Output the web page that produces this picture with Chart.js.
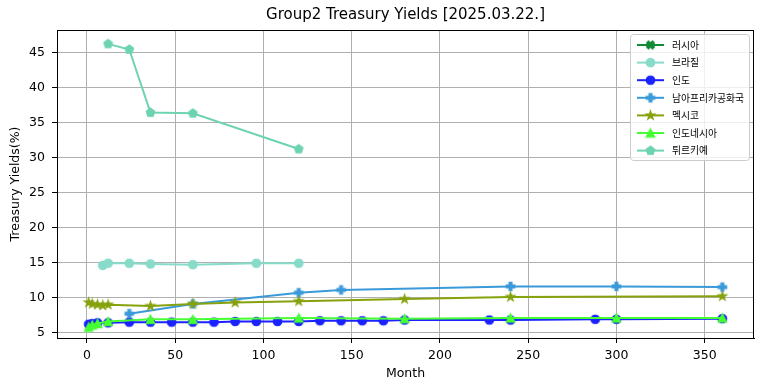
<!DOCTYPE html>
<html>
<head>
<meta charset="utf-8">
<script src="https://cdn.jsdelivr.net/npm/chart.js@4/dist/chart.umd.min.js"></script>
<style>
  html, body { margin: 0; padding: 0; background: #fff; }
  #yieldChart { display: block; }
</style>
</head>
<body>
<canvas id="yieldChart" width="764" height="391"></canvas>
<script>
// values (month -> yield %)
const russiaMonths = [];
const russiaYields = [];

const brazilMonths = [9, 12, 24, 36, 60, 96, 120];
const brazilYields = [14.6, 14.9, 14.9, 14.8, 14.7, 14.9, 14.9];

const indiaMonths = [1, 3, 6, 12, 24, 36, 48, 60, 72, 84, 96, 108, 120, 132, 144, 156, 168, 180, 228, 240, 288, 300, 360];
const indiaYields = [6.2, 6.3, 6.4, 6.4, 6.5, 6.5, 6.5, 6.5, 6.5, 6.6, 6.6, 6.6, 6.6, 6.7, 6.7, 6.7, 6.7, 6.8, 6.8, 6.8, 6.9, 6.9, 7.0];

const southAfricaMonths = [24, 60, 120, 144, 240, 300, 360];
const southAfricaYields = [7.7, 9.1, 10.7, 11.1, 11.6, 11.6, 11.5];

const mexicoMonths = [1, 3, 6, 9, 12, 36, 60, 84, 120, 180, 240, 360];
const mexicoYields = [9.3, 9.1, 9.0, 8.9, 9.0, 8.8, 9.1, 9.3, 9.5, 9.8, 10.1, 10.2];

const indonesiaMonths = [1, 3, 6, 12, 36, 60, 120, 180, 240, 300, 360];
const indonesiaYields = [5.8, 6.1, 6.3, 6.6, 6.9, 6.9, 7.1, 7.0, 7.1, 7.1, 7.1];

const turkeyMonths = [12, 24, 36, 60, 120];
const turkeyYields = [46.2, 45.4, 36.4, 36.3, 31.2];

const xTickValues = [0, 50, 100, 150, 200, 250, 300, 350];
const yTickValues = [5, 10, 15, 20, 25, 30, 35, 40, 45];

const baseFont = { family: "'DejaVu Sans', sans-serif", size: 12.5 };

function markerCanvas(shape, color, size) {
  const dim = Math.ceil(size + 4);
  const c = document.createElement("canvas");
  c.width = dim;
  c.height = dim;
  const g = c.getContext("2d");
  const r = size / 2;
  g.translate(dim / 2, dim / 2);
  g.fillStyle = color;
  g.strokeStyle = color;
  g.lineWidth = 1.2;
  g.lineJoin = "miter";
  g.beginPath();
  if (shape === "circle") {
    g.arc(0, 0, r, 0, Math.PI * 2);
  } else if (shape === "triangle") {
    g.moveTo(0, -r);
    g.lineTo(r, r);
    g.lineTo(-r, r);
    g.closePath();
  } else if (shape === "star") {
    for (let i = 0; i < 10; i++) {
      const rr = i % 2 ? r * 0.381966 : r;
      const a = -Math.PI / 2 + i * Math.PI / 5;
      g.lineTo(rr * Math.cos(a), rr * Math.sin(a));
    }
    g.closePath();
  } else if (shape === "pentagon") {
    for (let i = 0; i < 5; i++) {
      const a = -Math.PI / 2 + i * 2 * Math.PI / 5;
      g.lineTo(r * Math.cos(a), r * Math.sin(a));
    }
    g.closePath();
  } else {
    // filled plus, rotated 45deg for the X marker
    if (shape === "x") g.rotate(Math.PI / 4);
    const u = size / 6;
    const pts = [[-1, -3], [1, -3], [1, -1], [3, -1], [3, 1], [1, 1], [1, 3], [-1, 3], [-1, 1], [-3, 1], [-3, -1], [-1, -1]];
    pts.forEach(([px, py]) => g.lineTo(px * u, py * u));
    g.closePath();
  }
  g.fill();
  g.stroke();
  return c;
}

const seriesList = [
  { label: "러시아", months: russiaMonths, values: russiaYields, color: "#138a36", shape: "x", size: 8.5 },
  { label: "브라질", months: brazilMonths, values: brazilYields, color: "#86dbc9", shape: "circle", size: 8.5 },
  { label: "인도", months: indiaMonths, values: indiaYields, color: "#1a22ff", shape: "circle", size: 8.5 },
  { label: "남아프리카공화국", months: southAfricaMonths, values: southAfricaYields, color: "#3a9ad9", shape: "plus", size: 8.5 },
  { label: "멕시코", months: mexicoMonths, values: mexicoYields, color: "#86a20c", shape: "star", size: 9 },
  { label: "인도네시아", months: indonesiaMonths, values: indonesiaYields, color: "#46ff33", shape: "triangle", size: 8.5 },
  { label: "튀르키예", months: turkeyMonths, values: turkeyYields, color: "#6dd3b2", shape: "pentagon", size: 9 }
];

seriesList.forEach((s) => { s.marker = markerCanvas(s.shape, s.color, s.size); });

const datasets = seriesList.map((s, i) => ({
  label: s.label,
  data: s.months.map((m, k) => ({ x: m, y: s.values[k] })),
  borderColor: s.color,
  backgroundColor: s.color,
  borderWidth: 2,
  pointStyle: s.marker,
  pointRadius: 4,
  pointHoverRadius: 4,
  tension: 0,
  fill: false,
  order: seriesList.length - i
}));

const frameAndLegend = {
  id: "frameAndLegend",
  afterDatasetsDraw(chart) {
    const { ctx, chartArea: a } = chart;
    ctx.save();
    ctx.strokeStyle = "#000";
    ctx.lineWidth = 1;
    ctx.strokeRect(Math.round(a.left) + 0.5, Math.round(a.top) + 0.5, Math.round(a.right - a.left) - 1, Math.round(a.bottom - a.top));
    ctx.restore();
  },
  afterDraw(chart) {
    const { ctx, chartArea: a } = chart;
    const boxW = 119, boxH = 126;
    const bx = a.right - 5 - boxW + 0.5;
    const by = a.top + 4 + 0.5;
    ctx.save();
    ctx.beginPath();
    ctx.roundRect(bx, by, boxW, boxH, 3);
    ctx.fillStyle = "rgba(255,255,255,0.8)";
    ctx.fill();
    ctx.strokeStyle = "#cccccc";
    ctx.lineWidth = 1;
    ctx.stroke();
    ctx.font = "9.8px 'Noto Sans CJK KR', sans-serif";
    ctx.textBaseline = "middle";
    ctx.fillStyle = "#000";
    seriesList.forEach((s, i) => {
      const cy = by + 10.5 + i * 17.6;
      const x0 = bx + 6.5;
      ctx.strokeStyle = s.color;
      ctx.lineWidth = 2;
      ctx.beginPath();
      ctx.moveTo(x0, cy);
      ctx.lineTo(x0 + 27, cy);
      ctx.stroke();
      ctx.drawImage(s.marker, x0 + 13.5 - s.marker.width / 2, cy - s.marker.height / 2);
      ctx.fillText(s.label, x0 + 35, cy);
    });
    ctx.restore();
  }
};

new Chart(document.getElementById("yieldChart"), {
  type: "line",
  data: { datasets },
  options: {
    responsive: false,
    animation: false,
    events: [],
    layout: { padding: { left: 0, right: 10, top: 0, bottom: 0 } },
    plugins: {
      legend: { display: false },
      tooltip: { enabled: false },
      title: {
        display: true,
        text: "Group2 Treasury Yields [2025.03.22.]",
        fullSize: false,
        color: "#000",
        font: { family: "'DejaVu Sans', sans-serif", size: 15, weight: "normal" },
        padding: { top: 6, bottom: 6 }
      }
    },
    scales: {
      x: {
        type: "linear",
        min: -16.95,
        max: 377.95,
        afterBuildTicks: (scale) => { scale.ticks = xTickValues.map((v) => ({ value: v })); },
        afterFit: (scale) => { scale.height = 53; },
        grid: { color: "#b0b0b0", lineWidth: 1, tickColor: "#000", tickLength: 5 },
        border: { color: "#000", width: 1 },
        ticks: { color: "#000", font: baseFont, padding: 5, maxRotation: 0, autoSkip: false },
        title: { display: true, text: "Month", color: "#000", font: baseFont, padding: { top: 0, bottom: 9.5 } }
      },
      y: {
        type: "linear",
        min: 4.24,
        max: 48.18,
        afterBuildTicks: (scale) => { scale.ticks = yTickValues.map((v) => ({ value: v })); },
        afterFit: (scale) => { scale.width = 57; },
        grid: { color: "#b0b0b0", lineWidth: 1, tickColor: "#000", tickLength: 5 },
        border: { color: "#000", width: 1 },
        ticks: { color: "#000", font: baseFont, padding: 7, autoSkip: false },
        title: { display: true, text: "Treasury Yields(%)", color: "#000", font: baseFont, padding: { top: 8.5, bottom: 0 } }
      }
    }
  },
  plugins: [frameAndLegend]
});
</script>
</body>
</html>
